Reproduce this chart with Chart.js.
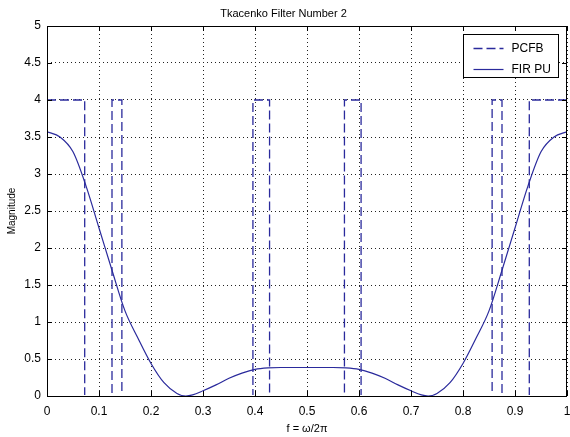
<!DOCTYPE html>
<html>
<head>
<meta charset="utf-8">
<script src="https://cdn.jsdelivr.net/npm/chart.js"></script>
<style>
  html, body { margin: 0; padding: 0; background: #fff; }
  #wrap { width: 570px; height: 437px; }
</style>
</head>
<body>
<div id="wrap"><canvas id="filterChart"></canvas></div>
<script>
// PCFB ideal response: band edges (f) and magnitude at each edge
const pcfbF = [0, 0.0725, 0.0725, 0.125, 0.125, 0.144, 0.144, 0.396, 0.396, 0.428, 0.428,
  0.572, 0.572, 0.604, 0.604, 0.856, 0.856, 0.875, 0.875, 0.9275, 0.9275, 1];
const pcfbMag = [4, 4, 0, 0, 4, 4, 0, 0, 4, 4, 0, 0, 4, 4, 0, 0, 4, 4, 0, 0, 4, 4];

// FIR PU magnitude
const firF = [0, 0.025, 0.05, 0.075, 0.1, 0.125, 0.15, 0.175, 0.2, 0.225, 0.25, 0.267, 0.28,
  0.3, 0.325, 0.35, 0.375, 0.4, 0.425, 0.45, 0.5, 0.55, 0.575, 0.6, 0.625, 0.65, 0.675,
  0.7, 0.72, 0.733, 0.75, 0.775, 0.8, 0.825, 0.85, 0.875, 0.9, 0.925, 0.95, 0.975, 1];
const firMag = [3.57, 3.5, 3.3, 2.84, 2.27, 1.7, 1.15, 0.78, 0.44, 0.18, 0.035, 0.0, 0.015,
  0.07, 0.15, 0.24, 0.31, 0.36, 0.38, 0.385, 0.385, 0.385, 0.38, 0.36, 0.31, 0.24, 0.15,
  0.07, 0.015, 0.0, 0.035, 0.18, 0.44, 0.78, 1.15, 1.7, 2.27, 2.84, 3.3, 3.5, 3.57];

const xTicks = [0, 0.1, 0.2, 0.3, 0.4, 0.5, 0.6, 0.7, 0.8, 0.9, 1];
const xTickLabels = ["0", "0.1", "0.2", "0.3", "0.4", "0.5", "0.6", "0.7", "0.8", "0.9", "1"];
const yTicks = [0, 0.5, 1, 1.5, 2, 2.5, 3, 3.5, 4, 4.5, 5];
const yTickLabels = ["0", "0.5", "1", "1.5", "2", "2.5", "3", "3.5", "4", "4.5", "5"];

const lineColor = "#2a2a9c";
const fontFamily = "'Liberation Sans', Arial, sans-serif";

// matlab style box: full frame, inward tick marks, legend inside the axes
const matlabBox = {
  id: "matlabBox",
  afterDraw(chart) {
    const ctx = chart.ctx;
    const a = chart.chartArea;
    const xs = chart.scales.x, ys = chart.scales.y;
    ctx.save();
    ctx.strokeStyle = "#000";
    ctx.lineWidth = 1;
    ctx.beginPath();
    ctx.rect(Math.round(a.left) + 0.5, Math.round(a.top) + 0.5,
      Math.round(a.right - a.left) - 1, Math.round(a.bottom - a.top));
    xTicks.forEach((v) => {
      const px = Math.round(xs.getPixelForValue(v)) + 0.5;
      ctx.moveTo(px, a.bottom); ctx.lineTo(px, a.bottom - 5);
      ctx.moveTo(px, a.top); ctx.lineTo(px, a.top + 5);
    });
    yTicks.forEach((v) => {
      const py = Math.round(ys.getPixelForValue(v)) + 0.5;
      ctx.moveTo(a.left, py); ctx.lineTo(a.left + 5, py);
      ctx.moveTo(a.right, py); ctx.lineTo(a.right - 5, py);
    });
    ctx.stroke();

    // legend
    const lx = 463.5, ly = 34.5, lw = 95, lh = 43;
    ctx.fillStyle = "#fff";
    ctx.fillRect(lx, ly, lw, lh);
    ctx.strokeRect(lx, ly, lw, lh);
    ctx.font = "12px " + fontFamily;
    ctx.textBaseline = "middle";
    chart.data.datasets.forEach((ds, i) => {
      const y = Math.round(ly + 13 + i * 21) + 0.5;
      ctx.strokeStyle = ds.borderColor;
      ctx.lineWidth = ds.borderWidth;
      ctx.setLineDash(ds.borderDash || []);
      ctx.beginPath();
      ctx.moveTo(lx + 10, y);
      ctx.lineTo(lx + 40, y);
      ctx.stroke();
      ctx.setLineDash([]);
      ctx.fillStyle = "#000";
      ctx.fillText(ds.label, lx + 48, y);
    });
    ctx.restore();
  }
};

const ctx = document.getElementById("filterChart").getContext("2d");
const filterChart = new Chart(ctx, {
  type: "scatter",
  data: {
    datasets: [
      {
        label: "PCFB",
        data: pcfbF.map((f, i) => ({ x: f, y: pcfbMag[i] })),
        showLine: true,
        borderColor: lineColor,
        borderWidth: 1.3,
        borderDash: [9, 4],
        pointRadius: 0,
        tension: 0,
        clip: { left: 0, top: 0, right: 0, bottom: -1 },
      },
      {
        label: "FIR PU",
        data: firF.map((f, i) => ({ x: f, y: firMag[i] })),
        showLine: true,
        borderColor: lineColor,
        borderWidth: 1.2,
        pointRadius: 0,
        cubicInterpolationMode: "monotone",
      },
    ],
  },
  options: {
    responsive: true,
    maintainAspectRatio: false,
    animation: false,
    layout: { padding: { left: 0, right: 3, top: 0, bottom: 0 } },
    plugins: {
      legend: { display: false },
      tooltip: { enabled: false },
      title: {
        display: true,
        text: "Tkacenko Filter Number 2",
        color: "#000",
        font: { family: fontFamily, size: 11, weight: "normal", lineHeight: 1.2 },
        padding: { top: 7.4, bottom: 5.4 },
      },
    },
    scales: {
      x: {
        type: "linear",
        min: 0,
        max: 1,
        afterBuildTicks: (scale) => { scale.ticks = xTicks.map((v) => ({ value: v })); },
        afterFit: (scale) => {
          scale.height = 41;
          scale.paddingLeft = 0;
          scale.paddingRight = 0;
        },
        ticks: {
          color: "#000",
          padding: 8,
          maxRotation: 0,
          font: { family: fontFamily, size: 12, lineHeight: 1.2 },
          callback: (v) => xTickLabels[xTicks.indexOf(v)],
        },
        grid: { color: "#222", lineWidth: 1, drawTicks: false },
        border: { display: false, dash: [1, 3] },
        title: {
          display: true,
          text: "f = ω/2π",
          color: "#000",
          font: { family: fontFamily, size: 11, lineHeight: 1.2 },
          padding: { top: 0, bottom: 1.4 },
        },
      },
      y: {
        type: "linear",
        min: 0,
        max: 5,
        afterBuildTicks: (scale) => { scale.ticks = yTicks.map((v) => ({ value: v })); },
        afterFit: (scale) => {
          scale.width = 47;
          scale.paddingTop = 0;
          scale.paddingBottom = 0;
        },
        ticks: {
          color: "#000",
          padding: 6,
          font: { family: fontFamily, size: 12, lineHeight: 1.2 },
          callback: (v) => yTickLabels[yTicks.indexOf(v)],
        },
        grid: { color: "#222", lineWidth: 1, drawTicks: false },
        border: { display: false, dash: [1, 3] },
        title: {
          display: true,
          text: "Magnitude",
          color: "#000",
          font: { family: fontFamily, size: 10, lineHeight: 1.2 },
          padding: { top: 6, bottom: 0 },
        },
      },
    },
  },
  plugins: [matlabBox],
});
</script>
</body>
</html>
